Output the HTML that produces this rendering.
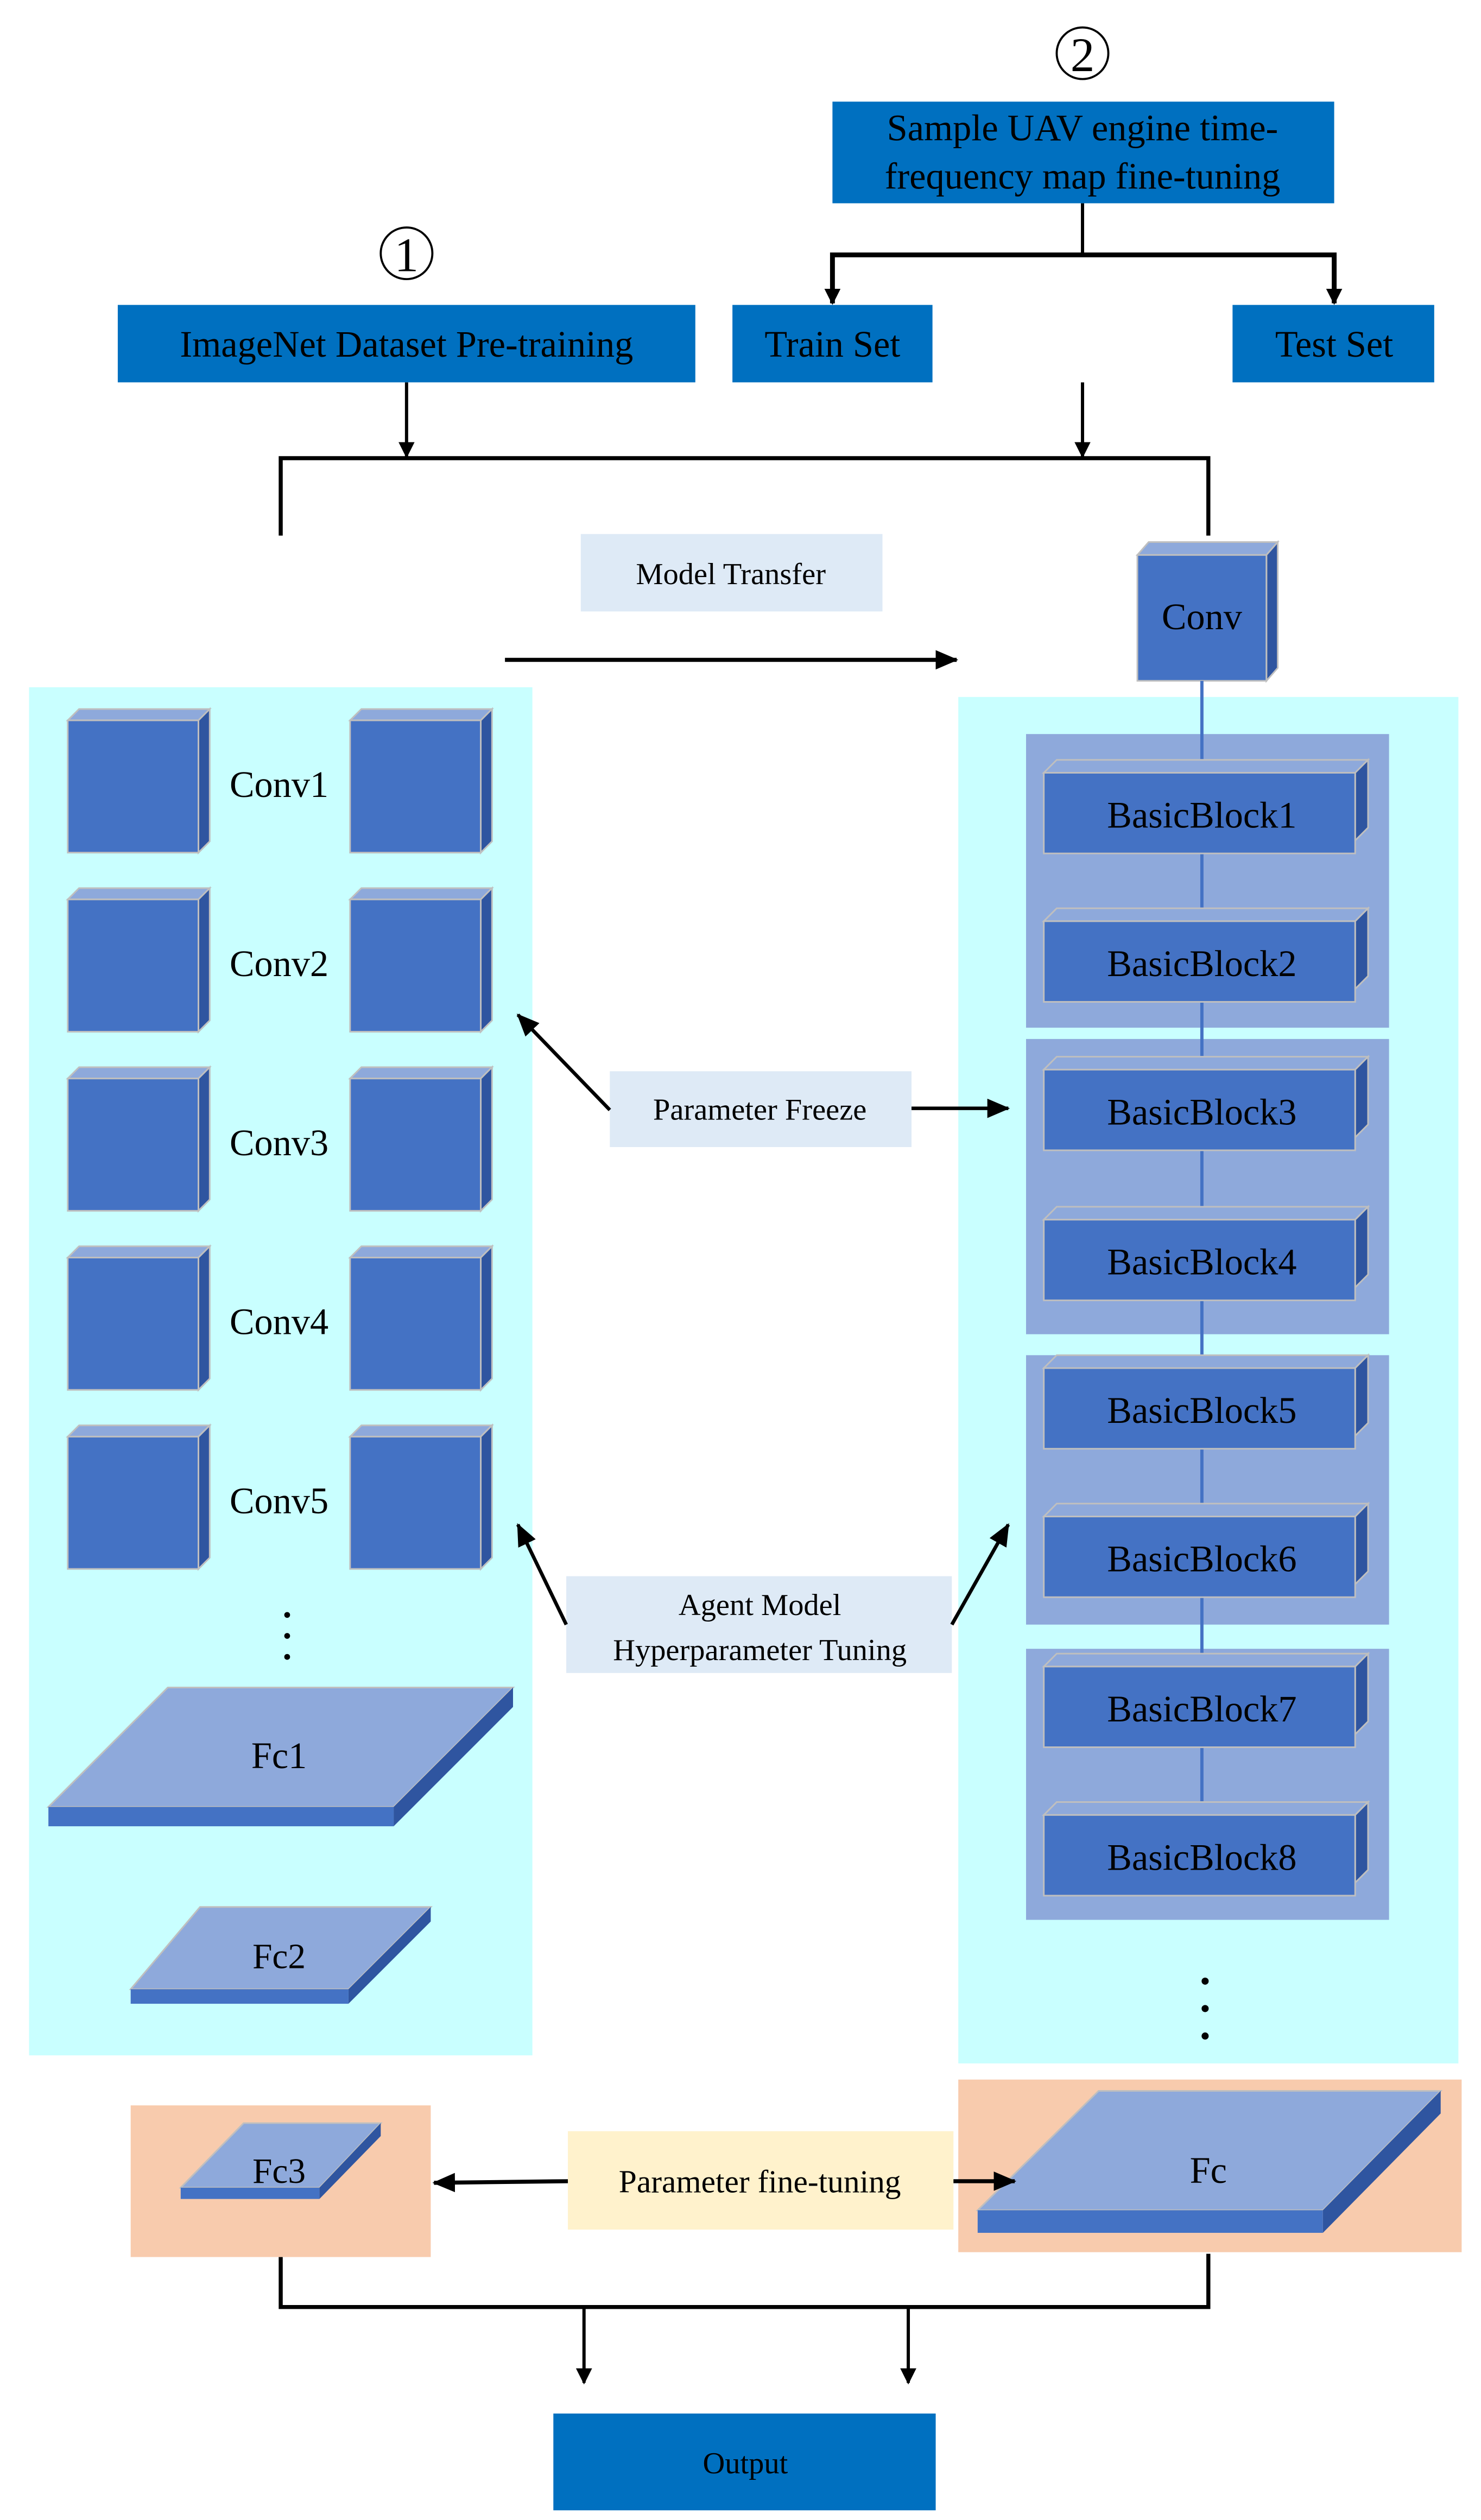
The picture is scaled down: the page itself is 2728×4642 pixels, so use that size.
<!DOCTYPE html>
<html><head><meta charset="utf-8"><style>
html,body{margin:0;padding:0;background:#fff}
svg{display:block}
svg text{font-family:"Liberation Serif","Times New Roman",serif;fill:#000}
</style></head><body>
<svg width="2728" height="4642" viewBox="0 0 918 1562" preserveAspectRatio="none" xmlns="http://www.w3.org/2000/svg" font-family="Liberation Serif, serif">
<defs>
<marker id="ah" markerWidth="10" markerHeight="10" refX="9" refY="5" orient="auto" markerUnits="userSpaceOnUse" viewBox="0 0 10 10">
<path d="M0,0 L10,5 L0,10 Z" fill="#000"/></marker>
<marker id="ah2" markerWidth="14" markerHeight="12" refX="13" refY="6" orient="auto" markerUnits="userSpaceOnUse" viewBox="0 0 14 12">
<path d="M0,0 L14,6 L0,12 Z" fill="#000"/></marker>
<g id="cube">
<polygon points="0,7 7,0 88,0 81,7" fill="#8EA9DB" stroke="#BFBFBF" stroke-width="1"/>
<polygon points="81,7 88,0 88,82 81,89" fill="#2F55A0" stroke="#BFBFBF" stroke-width="1"/>
<rect x="0" y="7" width="81" height="82" fill="#4472C4" stroke="#BFBFBF" stroke-width="1"/>
</g>
<g id="bb">
<polygon points="0,8 8,0 201,0 193,8" fill="#8EA9DB" stroke="#BFBFBF" stroke-width="1"/>
<polygon points="193,8 201,0 201,42 193,50" fill="#2F55A0" stroke="#BFBFBF" stroke-width="1"/>
<rect x="0" y="8" width="193" height="50" fill="#4472C4" stroke="#BFBFBF" stroke-width="1"/>
</g>
</defs>

<circle cx="671" cy="33" r="16" fill="none" stroke="#000" stroke-width="1.3"/>
<text x="671" y="44" font-size="30" text-anchor="middle">2</text>
<circle cx="252" cy="157" r="16" fill="none" stroke="#000" stroke-width="1.3"/>
<text x="252" y="168" font-size="30" text-anchor="middle">1</text>

<rect x="516" y="63" width="311" height="63" fill="#0070C0"/>
<text x="671" y="87" font-size="23" text-anchor="middle">Sample UAV engine time-</text>
<text x="671" y="117" font-size="23" text-anchor="middle">frequency map fine-tuning</text>
<rect x="73" y="189" width="358" height="48" fill="#0070C0"/>
<text x="252" y="221" font-size="23" text-anchor="middle">ImageNet Dataset Pre-training</text>
<rect x="454" y="189" width="124" height="48" fill="#0070C0"/>
<text x="516" y="221" font-size="23" text-anchor="middle">Train Set</text>
<rect x="764" y="189" width="125" height="48" fill="#0070C0"/>
<text x="827" y="221" font-size="23" text-anchor="middle">Test Set</text>

<g stroke="#000" fill="none">
<line x1="671" y1="126" x2="671" y2="158" stroke-width="2"/>
<polyline points="516,188 516,158 827,158 827,188" stroke-width="3" marker-end="url(#ah)"/>
<line x1="516" y1="158" x2="516" y2="188" stroke-width="2" marker-end="url(#ah)"/>
<line x1="252" y1="237" x2="252" y2="283" stroke-width="2" marker-end="url(#ah)"/>
<line x1="671" y1="237" x2="671" y2="283" stroke-width="2" marker-end="url(#ah)"/>
<polyline points="174,332 174,284 749,284 749,332" stroke-width="2.5"/>
<line x1="313" y1="409" x2="593" y2="409" stroke-width="2.5" marker-end="url(#ah2)"/>
</g>

<rect x="360" y="331" width="187" height="48" fill="#DEEAF6"/>
<text x="453" y="362" font-size="19" text-anchor="middle">Model Transfer</text>

<rect x="18" y="426" width="312" height="848" fill="#C9FFFF"/>
<rect x="594" y="432" width="310" height="847" fill="#C9FFFF"/>

<polygon points="705,344 712,336 792,336 785,344" fill="#8EA9DB" stroke="#BFBFBF"/>
<polygon points="785,344 792,336 792,414 785,422" fill="#2F55A0" stroke="#BFBFBF"/>
<rect x="705" y="344" width="80" height="78" fill="#4472C4" stroke="#BFBFBF"/>
<text x="745" y="390" font-size="23" text-anchor="middle">Conv</text>

<g>
<use href="#cube" x="42" y="439.5"/><use href="#cube" x="217" y="439.5"/>
<use href="#cube" x="42" y="550.5"/><use href="#cube" x="217" y="550.5"/>
<use href="#cube" x="42" y="661.5"/><use href="#cube" x="217" y="661.5"/>
<use href="#cube" x="42" y="772.5"/><use href="#cube" x="217" y="772.5"/>
<use href="#cube" x="42" y="883.5"/><use href="#cube" x="217" y="883.5"/>
</g>
<g font-size="23" text-anchor="middle">
<text x="173" y="494">Conv1</text>
<text x="173" y="605">Conv2</text>
<text x="173" y="716">Conv3</text>
<text x="173" y="827">Conv4</text>
<text x="173" y="938">Conv5</text>
</g>
<circle cx="178" cy="1001" r="1.8"/><circle cx="178" cy="1014" r="1.8"/><circle cx="178" cy="1027" r="1.8"/>

<polygon points="30,1120 104,1046 318,1046 244,1120" fill="#8EA9DB" stroke="#BFBFBF"/>
<polygon points="244,1120 318,1046 318,1058 244,1132" fill="#2F55A0"/>
<rect x="30" y="1120" width="214" height="12" fill="#4472C4"/>
<text x="173" y="1096" font-size="23" text-anchor="middle">Fc1</text>
<polygon points="81,1233 124,1182 267,1182 216,1233" fill="#8EA9DB" stroke="#BFBFBF"/>
<polygon points="216,1233 267,1182 267,1191 216,1242" fill="#2F55A0"/>
<rect x="81" y="1233" width="135" height="9" fill="#4472C4"/>
<text x="173" y="1220" font-size="22" text-anchor="middle">Fc2</text>

<rect x="636" y="455" width="225" height="182" fill="#8EA9DB"/>
<rect x="636" y="644" width="225" height="183" fill="#8EA9DB"/>
<rect x="636" y="840" width="225" height="167" fill="#8EA9DB"/>
<rect x="636" y="1022" width="225" height="168" fill="#8EA9DB"/>
<line x1="745" y1="422" x2="745" y2="1150" stroke="#4472C4" stroke-width="2"/>
<g>
<use href="#bb" x="647" y="471"/>
<use href="#bb" x="647" y="563"/>
<use href="#bb" x="647" y="655"/>
<use href="#bb" x="647" y="748"/>
<use href="#bb" x="647" y="840"/>
<use href="#bb" x="647" y="932"/>
<use href="#bb" x="647" y="1025"/>
<use href="#bb" x="647" y="1117"/>
</g>
<g font-size="23" text-anchor="middle">
<text x="745" y="513">BasicBlock1</text>
<text x="745" y="605">BasicBlock2</text>
<text x="745" y="697">BasicBlock3</text>
<text x="745" y="790">BasicBlock4</text>
<text x="745" y="882">BasicBlock5</text>
<text x="745" y="974">BasicBlock6</text>
<text x="745" y="1067">BasicBlock7</text>
<text x="745" y="1159">BasicBlock8</text>
</g>
<circle cx="747" cy="1228" r="2.2"/><circle cx="747" cy="1245" r="2.2"/><circle cx="747" cy="1262" r="2.2"/>

<rect x="378" y="664" width="187" height="47" fill="#DEEAF6"/>
<text x="471" y="694" font-size="19" text-anchor="middle">Parameter Freeze</text>
<rect x="351" y="977" width="239" height="60" fill="#DEEAF6"/>
<text x="471" y="1001" font-size="19" text-anchor="middle">Agent Model</text>
<text x="471" y="1029" font-size="19" text-anchor="middle">Hyperparameter Tuning</text>
<g stroke="#000" stroke-width="2.2" fill="none">
<line x1="378" y1="688" x2="321" y2="629" marker-end="url(#ah2)"/>
<line x1="565" y1="687" x2="625" y2="687" marker-end="url(#ah2)"/>
<line x1="351" y1="1007" x2="321" y2="945" marker-end="url(#ah2)"/>
<line x1="590" y1="1007" x2="625" y2="945" marker-end="url(#ah2)"/>
</g>

<rect x="81" y="1305" width="186" height="94" fill="#F8CBAD"/>
<polygon points="112,1356 151,1316 236,1316 198,1356" fill="#8EA9DB" stroke="#BFBFBF"/>
<polygon points="198,1356 236,1316 236,1324 198,1363" fill="#2F55A0"/>
<rect x="112" y="1356" width="86" height="7" fill="#4472C4"/>
<text x="173" y="1353" font-size="22" text-anchor="middle">Fc3</text>

<rect x="594" y="1289" width="312" height="107" fill="#F8CBAD"/>
<polygon points="606,1370 681,1296 893,1296 820,1370" fill="#8EA9DB" stroke="#BFBFBF"/>
<polygon points="820,1370 893,1296 893,1310 820,1384" fill="#2F55A0"/>
<rect x="606" y="1370" width="214" height="14" fill="#4472C4"/>
<text x="749" y="1353" font-size="23" text-anchor="middle">Fc</text>

<rect x="352" y="1321" width="239" height="61" fill="#FFF2CC"/>
<text x="471" y="1359" font-size="20" text-anchor="middle">Parameter fine-tuning</text>
<g stroke="#000" fill="none">
<line x1="352" y1="1352" x2="269" y2="1353" stroke-width="2.5" marker-end="url(#ah2)"/>
<line x1="591" y1="1352" x2="629" y2="1352" stroke-width="2.5" marker-end="url(#ah2)"/>
<polyline points="174,1399 174,1430 749,1430 749,1397" stroke-width="2.5"/>
<line x1="362" y1="1430" x2="362" y2="1477" stroke-width="2" marker-end="url(#ah)"/>
<line x1="563" y1="1430" x2="563" y2="1477" stroke-width="2" marker-end="url(#ah)"/>
</g>
<rect x="343" y="1496" width="237" height="60" fill="#0070C0"/>
<text x="462" y="1533" font-size="19" text-anchor="middle">Output</text>
</svg>
</body></html>
